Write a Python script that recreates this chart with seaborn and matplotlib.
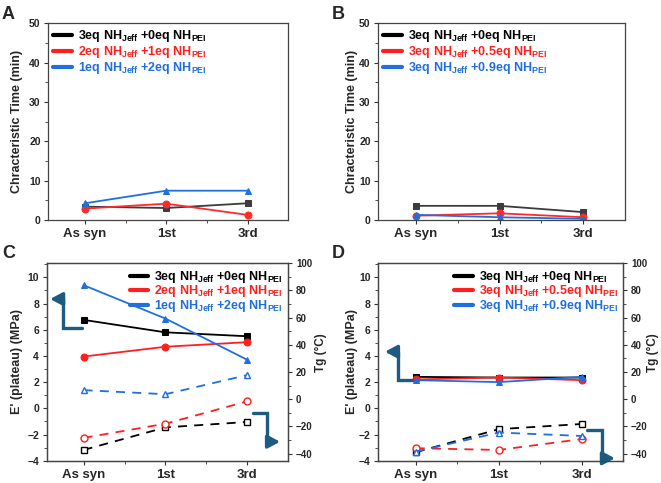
import matplotlib
matplotlib.use("Agg")
import matplotlib.pyplot as plt
from matplotlib.lines import Line2D
from matplotlib.ticker import MultipleLocator
import seaborn as sns
import pandas as pd

stages = ["As syn", "1st", "3rd"]

# panel A: characteristic time (min)
a_labels = [r"3eq NH$_{Jeff}$ +0eq NH$_{PEI}$",
            r"2eq NH$_{Jeff}$ +1eq NH$_{PEI}$",
            r"1eq NH$_{Jeff}$ +2eq NH$_{PEI}$"]
a_time_0 = [3.4, 3.05, 4.25]
a_time_1 = [2.9, 4.15, 1.3]
a_time_2 = [4.25, 7.45, 7.45]

# panel B: characteristic time (min)
b_labels = [r"3eq NH$_{Jeff}$ +0eq NH$_{PEI}$",
            r"3eq NH$_{Jeff}$ +0.5eq NH$_{PEI}$",
            r"3eq NH$_{Jeff}$ +0.9eq NH$_{PEI}$"]
b_time_0 = [3.6, 3.6, 2.0]
b_time_1 = [1.1, 1.7, 0.7]
b_time_2 = [1.3, 0.7, 0.3]

# panel C: E' plateau (MPa) and Tg (C)
c_mod_0 = [6.75, 5.8, 5.5]
c_mod_1 = [3.95, 4.7, 5.05]
c_mod_2 = [9.4, 6.85, 3.7]
c_tg_0 = [-37.3, -20.7, -16.7]
c_tg_1 = [-28.4, -18.0, -1.5]
c_tg_2 = [6.7, 3.7, 17.8]

# panel D: E' plateau (MPa) and Tg (C)
d_mod_0 = [2.4, 2.35, 2.35]
d_mod_1 = [2.2, 2.35, 2.15]
d_mod_2 = [2.15, 2.0, 2.4]
d_tg_0 = [-39.0, -22.0, -18.2]
d_tg_1 = [-36.0, -37.3, -29.3]
d_tg_2 = [-38.5, -24.5, -27.0]

colors = ["#000000", "#ff1f1f", "#1f6fdf"]
colors_top = ["#3c3c3c", "#ff2a2a", "#1f6fdf"]
markers = ["s", "o", "^"]
arrow_color = "#1d5b80"

sns.set_theme(style="ticks")
plt.rcParams["font.family"] = ["Liberation Sans", "DejaVu Sans"]
plt.rcParams["font.weight"] = "bold"
plt.rcParams["mathtext.fontset"] = "custom"
plt.rcParams["mathtext.bf"] = "Liberation Sans:bold"
plt.rcParams["mathtext.rm"] = "Liberation Sans:bold"
plt.rcParams["mathtext.default"] = "bf"


def series_frame(values):
    return pd.DataFrame({"stage": stages, "value": values})


def style_axis(ax, ylim, major, minor, ysize=7.5):
    ax.set_xlim(-0.45, 2.5)
    ax.set_ylim(*ylim)
    ax.yaxis.set_major_locator(MultipleLocator(major))
    ax.yaxis.set_minor_locator(MultipleLocator(minor))
    ax.set_xticks([0, 1, 2])
    ax.set_xticks([0.5, 1.5], minor=True)
    ax.set_xticklabels(stages, fontsize=9.5, fontweight="bold")
    ax.set_xlabel("")
    ax.tick_params(axis="y", labelsize=ysize, length=3, width=0.8, color="#333333", pad=2.5)
    ax.tick_params(axis="x", length=3, width=0.8, color="#333333", pad=3)
    ax.tick_params(which="minor", length=2, width=0.6, color="#333333")
    for lbl in ax.get_yticklabels():
        lbl.set_fontweight("bold")
    for sp in ax.spines.values():
        sp.set_color("#444444")
        sp.set_linewidth(0.9)


def draw_solid(ax, series, cols):
    for vals, c, m in zip(series, cols, markers):
        sns.lineplot(data=series_frame(vals), x="stage", y="value", ax=ax,
                     color=c, marker=m, markersize=5, markeredgecolor=c,
                     linewidth=1.3, sort=False)


def draw_dashed(ax, series):
    for vals, c, m in zip(series, colors, markers):
        sns.lineplot(data=series_frame(vals), x="stage", y="value", ax=ax,
                     color=c, marker=m, markersize=5, markerfacecolor="white",
                     markeredgecolor=c, markeredgewidth=1.0,
                     linewidth=1.3, dashes=(5, 4), sort=False)


def add_legend(ax, labels, loc, spacing, pad):
    handles = [Line2D([], [], color=c, lw=3) for c in colors]
    ax.legend(handles, labels, loc=loc, frameon=False, fontsize=9,
              labelcolor=colors, handlelength=1.5, handletextpad=0.45,
              labelspacing=spacing, borderaxespad=pad, borderpad=0.3)


def bent_arrow(ax, pts):
    xs = [p[0] for p in pts[:-1]]
    ys = [p[1] for p in pts[:-1]]
    ax.plot(xs, ys, color=arrow_color, lw=2.4, transform=ax.transAxes,
            clip_on=False, solid_joinstyle="miter")
    ax.annotate("", xy=pts[-1], xytext=pts[-2], xycoords="axes fraction",
                textcoords="axes fraction",
                arrowprops=dict(arrowstyle="-|>,head_length=0.6,head_width=0.32",
                                color=arrow_color, lw=2.4, shrinkA=0, shrinkB=0))


fig = plt.figure(figsize=(6.61, 4.83), dpi=100)
W, H = 661, 483


def add_ax(x0, x1, top, bottom):
    return fig.add_axes([x0 / W, 1 - bottom / H, (x1 - x0) / W, (bottom - top) / H])


axA = add_ax(48.3, 288.3, 23.3, 220)
axB = add_ax(378.3, 625, 23.3, 220)
axC = add_ax(46.7, 288.3, 263.3, 460.7)
axD = add_ax(378.3, 623.3, 263.3, 460.7)

# A and B
for ax, series, labels, lx in [(axA, [a_time_0, a_time_1, a_time_2], a_labels, -0.105),
                               (axB, [b_time_0, b_time_1, b_time_2], b_labels, -0.081)]:
    draw_solid(ax, series, colors_top)
    style_axis(ax, (0, 50), 10, 5)
    ax.set_ylabel("Chracteristic Time (min)", fontsize=9, fontweight="bold")
    ax.yaxis.set_label_coords(lx, 0.5)
    add_legend(ax, labels, "upper left", 0.0, 0.1)

# C and D
for ax, mods, tgs, labels, lx, rx in [
        (axC, [c_mod_0, c_mod_1, c_mod_2], [c_tg_0, c_tg_1, c_tg_2], a_labels, -0.098, 1.11),
        (axD, [d_mod_0, d_mod_1, d_mod_2], [d_tg_0, d_tg_1, d_tg_2], b_labels, -0.082, 1.095)]:
    draw_solid(ax, mods, colors)
    style_axis(ax, (-4, 11.07), 2, 1)
    ax.set_ylabel("E' (plateau) (MPa)", fontsize=9, fontweight="bold")
    ax.yaxis.set_label_coords(lx, 0.5)
    tw = ax.twinx()
    draw_dashed(tw, tgs)
    style_axis(tw, (-45.2, 100), 20, 10, ysize=7)
    tw.set_ylabel("Tg (°C)", fontsize=8.5, fontweight="bold")
    tw.yaxis.set_label_coords(rx, 0.55)
    add_legend(ax, labels, "upper right", -0.12, 0.15)

bent_arrow(axC, [(0.145, 0.674), (0.069, 0.674), (0.069, 0.819), (0.014, 0.819)])
bent_arrow(axC, [(0.854, 0.242), (0.911, 0.242), (0.911, 0.096), (0.966, 0.096)])
bent_arrow(axD, [(0.136, 0.409), (0.082, 0.409), (0.082, 0.552), (0.027, 0.552)])
bent_arrow(axD, [(0.851, 0.156), (0.912, 0.156), (0.912, 0.012), (0.966, 0.012)])

for lbl, x, y in [("A", 2, 6), ("B", 332, 6), ("C", 2, 245), ("D", 332, 245)]:
    fig.text(x / W, 1 - y / H, lbl, fontsize=13, fontweight="bold", va="top", ha="left")

fig.savefig("out.png", dpi=100)
